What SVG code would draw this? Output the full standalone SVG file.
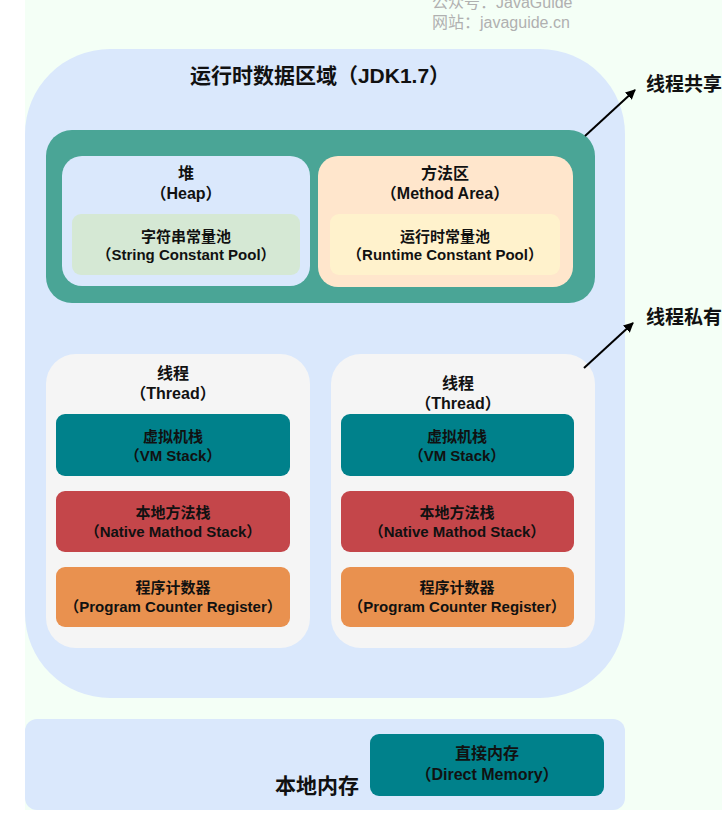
<svg xmlns="http://www.w3.org/2000/svg" width="722" height="813" viewBox="0 0 722 813">
<defs>
<style>
text{font-family:"Liberation Sans","Noto Sans CJK SC",sans-serif;font-weight:bold;fill:#111;text-anchor:middle}
.wm{font-weight:normal;fill:#b0b0b0;text-anchor:start;font-size:16px}
.t21{font-size:21px}
.t19{font-size:19px;text-anchor:start}
.t16{font-size:16px}
.t15{font-size:15px}
.conn{stroke:#000;stroke-width:2;fill:none;marker-end:url(#ah)}
</style>
<marker id="ah" viewBox="0 0 10 10" refX="9" refY="5" markerWidth="5" markerHeight="5" orient="auto">
<path d="M0,0 L10,5 L0,10 Z" fill="#000"/>
</marker>
</defs>
<rect x="0" y="0" width="722" height="813" fill="#ffffff"/>
<rect x="25" y="0" width="697" height="810" fill="#f4fff6"/>
<g id="watermark">
<text class="wm" x="432" y="8">公众号：JavaGuide</text>
<text class="wm" x="432" y="28">网站：javaguide.cn</text>
</g>
<g id="runtime-area">
<rect x="25" y="49" width="600" height="649" rx="85" fill="#dae8fc"/>
<text class="t21" x="320" y="83">运行时数据区域（JDK1.7）</text>
</g>
<g id="shared">
<rect x="46" y="130" width="549" height="173" rx="26" fill="#4aa596"/>
</g>
<g id="heap">
<rect x="62" y="156" width="248" height="130" rx="20" fill="#dae8fc"/>
<text class="t16" x="186" y="179">堆</text>
<text class="t16" x="186" y="199">（Heap）</text>
</g>
<g id="string-pool">
<rect x="72" y="214" width="228" height="61" rx="9" fill="#d5e8d4"/>
<text class="t15" x="186" y="242">字符串常量池</text>
<text class="t15" x="186" y="260">（String Constant Pool）</text>
</g>
<g id="method-area">
<rect x="318" y="156" width="255" height="131" rx="20" fill="#ffe6cc"/>
<text class="t16" x="445" y="179">方法区</text>
<text class="t16" x="445" y="199">（Method Area）</text>
</g>
<g id="runtime-pool">
<rect x="330" y="214" width="230" height="61" rx="9" fill="#fff2cc"/>
<text class="t15" x="445" y="242">运行时常量池</text>
<text class="t15" x="445" y="260">（Runtime Constant Pool）</text>
</g>
<g id="thread1">
<rect x="46" y="354" width="264" height="294" rx="30" fill="#f5f5f5"/>
<text class="t16" x="173" y="379">线程</text>
<text class="t16" x="173" y="399">（Thread）</text>
</g>
<g id="vmstack1">
<rect x="56" y="414" width="234" height="62" rx="9" fill="#00818b"/>
<text class="t15" x="173" y="442">虚拟机栈</text>
<text class="t15" x="173" y="461">（VM Stack）</text>
</g>
<g id="native1">
<rect x="56" y="491" width="234" height="61" rx="9" fill="#c4464a"/>
<text class="t15" x="173" y="518">本地方法栈</text>
<text class="t15" x="173" y="537">（Native Mathod Stack）</text>
</g>
<g id="pc1">
<rect x="56" y="567" width="234" height="60" rx="9" fill="#e9914f"/>
<text class="t15" x="173" y="593">程序计数器</text>
<text class="t15" x="173" y="612">（Program Counter Register）</text>
</g>
<g id="thread2">
<rect x="331" y="354" width="264" height="294" rx="30" fill="#f5f5f5"/>
<text class="t16" x="458" y="389">线程</text>
<text class="t16" x="458" y="409">（Thread）</text>
</g>
<g id="vmstack2">
<rect x="341" y="414" width="233" height="62" rx="9" fill="#00818b"/>
<text class="t15" x="457" y="442">虚拟机栈</text>
<text class="t15" x="457" y="461">（VM Stack）</text>
</g>
<g id="native2">
<rect x="341" y="491" width="233" height="61" rx="9" fill="#c4464a"/>
<text class="t15" x="457" y="518">本地方法栈</text>
<text class="t15" x="457" y="537">（Native Mathod Stack）</text>
</g>
<g id="pc2">
<rect x="341" y="567" width="233" height="60" rx="9" fill="#e9914f"/>
<text class="t15" x="457" y="593">程序计数器</text>
<text class="t15" x="457" y="612">（Program Counter Register）</text>
</g>
<g id="native-memory">
<rect x="25" y="719" width="600" height="91" rx="12" fill="#dae8fc"/>
<text class="t21" x="317" y="793">本地内存</text>
</g>
<g id="direct-memory">
<rect x="370" y="734" width="234" height="62" rx="9" fill="#00818b"/>
<text class="t16" x="487" y="759">直接内存</text>
<text class="t16" x="487" y="780">（Direct Memory）</text>
</g>
<g id="labels">
<text class="t19" x="646" y="91">线程共享</text>
<text class="t19" x="646" y="324">线程私有</text>
</g>
<g id="connectors">
<line class="conn" x1="585" y1="136" x2="635" y2="90"/>
<line class="conn" x1="584" y1="368" x2="633" y2="323"/>
</g>
</svg>
